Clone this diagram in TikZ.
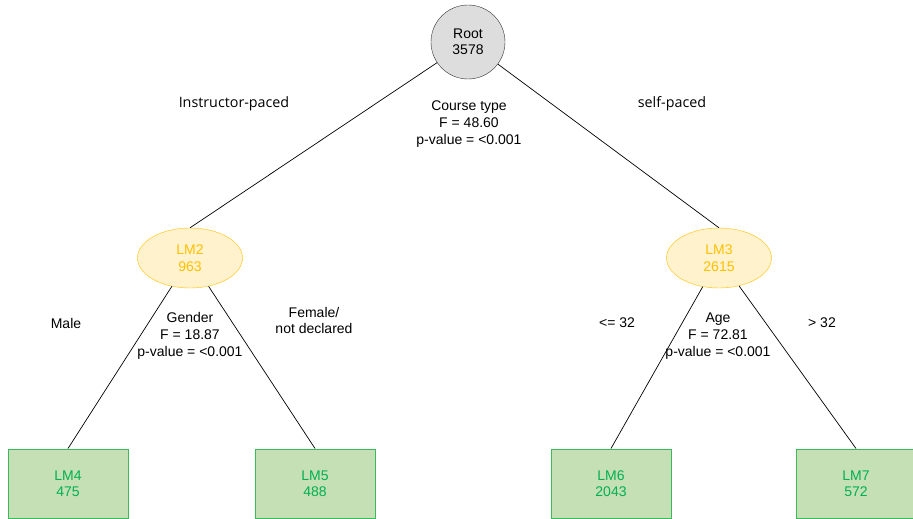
\documentclass[tikz,border=0pt]{standalone}
\usepackage{fontspec}
\setmainfont{Liberation Sans}
\newfontfamily\opensans{Open Sans}
\usetikzlibrary{shapes.geometric}
\definecolor{rootfill}{HTML}{DDDDDD}
\definecolor{lmfill}{HTML}{FFF2CC}
\definecolor{lmdraw}{HTML}{FFC000}
\definecolor{lmtext}{HTML}{FFC000}
\definecolor{leaffill}{HTML}{C5E0B4}
\definecolor{leafdraw}{HTML}{3CB95A}
\definecolor{leaftext}{HTML}{00B050}
\tikzset{
  rootnode/.style={circle, draw=black!80, fill=rootfill, minimum size=74pt, inner sep=0pt, align=center, font=\fontsize{14}{16}\selectfont},
  lmnode/.style={ellipse, draw=lmdraw, fill=lmfill, minimum width=105pt, minimum height=60pt, inner sep=0pt, align=center, text=lmtext, font=\fontsize{14}{16.5}\selectfont},
  leafnode/.style={rectangle, draw=leafdraw, line width=1pt, fill=leaffill, minimum width=120pt, minimum height=69pt, inner sep=0pt, align=center, text=leaftext, font=\fontsize{14}{16.5}\selectfont},
  lbl/.style={align=center, inner sep=0pt, font=\fontsize{14}{16.8}\selectfont},
  lbl2/.style={align=center, inner sep=0pt, font=\opensans\fontsize{14.3}{17}\selectfont},
  edge/.style={draw=black, line width=0.7pt}
}
\begin{document}
\begin{tikzpicture}[x=1pt,y=-1pt]
\useasboundingbox (0,0) rectangle (913,519);
\node[rootnode] (root) at (468,42) {Root\\3578};
\node[lmnode] (lm2) at (190,258) {LM2\\963};
\node[lmnode] (lm3) at (719,258) {LM3\\2615};
\node[leafnode] (lm4) at (68,483.5) {LM4\\475};
\node[leafnode] (lm5) at (315,483.5) {LM5\\488};
\node[leafnode] (lm6) at (611,483.5) {LM6\\2043};
\node[leafnode] (lm7) at (856,483.5) {LM7\\572};
\draw[edge] (root) -- (lm2.north);
\draw[edge] (root) -- (lm3.north);
\draw[edge] (lm2) -- (lm4.north);
\draw[edge] (lm2) -- (lm5.north);
\draw[edge] (lm3) -- (lm6.north);
\draw[edge] (lm3) -- (lm7.north);
\node[lbl2] (l1) at (234,104) {Instructor-paced};
\node[lbl2] (l2) at (672,104) {self-paced};
\node[lbl] (l3) at (469,124) {Course type\\F = 48.60\\p-value = <0.001};
\node[lbl] (l4) at (66,323) {Male};
\node[lbl] (l5) at (190,336) {Gender\\F = 18.87\\p-value = <0.001};
\node[lbl] (l6) at (314,320.5) {Female/\\not declared};
\node[lbl] (l7) at (617,323) {<= 32};
\node[lbl] (l8) at (718,336) {Age\\F = 72.81\\p-value = <0.001};
\node[lbl] (l9) at (822,323) {> 32};
\end{tikzpicture}
\end{document}
